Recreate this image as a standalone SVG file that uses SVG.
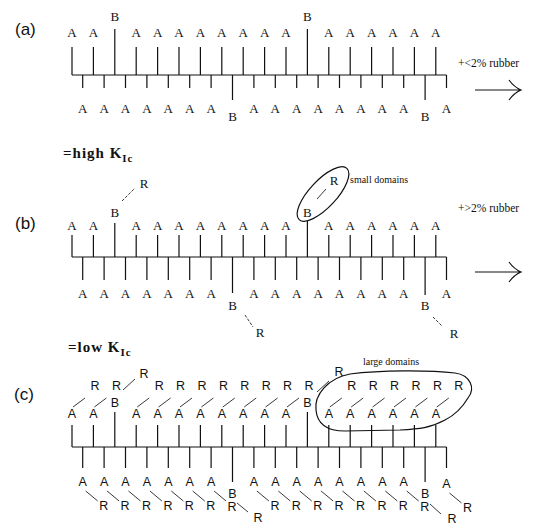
<svg xmlns="http://www.w3.org/2000/svg" width="551" height="527" viewBox="0 0 551 527">
<style>
.ln{stroke:#111;stroke-width:1.2;fill:none}
.th{stroke:#222;stroke-width:0.9;fill:none}
.s{font-family:"Liberation Serif",serif;font-size:13px;text-anchor:middle;fill:#111}
.c{font-family:"Liberation Sans",Arial,sans-serif;font-size:12.5px;text-anchor:middle;fill:#111}
.p{font-family:"Liberation Sans",Arial,sans-serif;font-size:17px;fill:#111}
.sm{font-family:"Liberation Serif",serif;font-size:10px;fill:#111}
.r{font-family:"Liberation Serif",serif;font-size:11.5px;fill:#111}
.k{font-family:"Liberation Serif",serif;font-size:15px;font-weight:bold;letter-spacing:1px;fill:#111}
</style>
<rect width="551" height="527" fill="#fff"/>

<g id="panel-a">
<text class="p" x="15" y="35">(a)</text>
<g id="a-connectors">
<path class="ln" d="M72,75H446.5"/>
<path class="ln" d="M72,47V75M93.4,47V75M114.8,29V75M136.2,47V75M157.6,47V75M179,47V75M200.4,47V75M221.8,47V75M243.2,47V75M264.6,47V75M286,47V75M307.4,29V75M328.8,47V75M350.2,47V75M371.6,47V75M393,47V75M414.4,47V75M435.8,47V75"/>
<path class="ln" d="M82.7,75V88M104.1,75V88M125.5,75V88M146.9,75V88M168.3,75V88M189.7,75V88M211.1,75V88M232.5,75V100M253.9,75V88M275.3,75V88M296.7,75V88M318.1,75V88M339.5,75V88M360.9,75V88M382.3,75V88M403.7,75V88M425.1,75V100M446.5,75V88"/>
<path class="ln" d="M475,90H520M509,80Q514,87 521,90Q514,93 509,100"/>
</g>
<g id="a-top">
<text class="s" x="72" y="37">A</text><text class="s" x="93.4" y="37">A</text><text class="s" x="114.8" y="21">B</text><text class="s" x="136.2" y="37">A</text><text class="s" x="157.6" y="37">A</text><text class="s" x="179" y="37">A</text><text class="s" x="200.4" y="37">A</text><text class="s" x="221.8" y="37">A</text><text class="s" x="243.2" y="37">A</text><text class="s" x="264.6" y="37">A</text><text class="s" x="286" y="37">A</text><text class="s" x="307.4" y="21">B</text><text class="s" x="328.8" y="37">A</text><text class="s" x="350.2" y="37">A</text><text class="s" x="371.6" y="37">A</text><text class="s" x="393" y="37">A</text><text class="s" x="414.4" y="37">A</text><text class="s" x="435.8" y="37">A</text>
</g>
<g id="a-bottom">
<text class="s" x="82.7" y="113">A</text><text class="s" x="104.1" y="113">A</text><text class="s" x="125.5" y="113">A</text><text class="s" x="146.9" y="113">A</text><text class="s" x="168.3" y="113">A</text><text class="s" x="189.7" y="113">A</text><text class="s" x="211.1" y="113">A</text><text class="s" x="232.5" y="121">B</text><text class="s" x="253.9" y="113">A</text><text class="s" x="275.3" y="113">A</text><text class="s" x="296.7" y="113">A</text><text class="s" x="318.1" y="113">A</text><text class="s" x="339.5" y="113">A</text><text class="s" x="360.9" y="113">A</text><text class="s" x="382.3" y="113">A</text><text class="s" x="403.7" y="113">A</text><text class="s" x="425.1" y="121">B</text><text class="s" x="446.5" y="113">A</text>
</g>
<text class="r" x="458" y="67">+&lt;2% rubber</text>
</g>

<text class="k" x="63" y="158">=high K<tspan dy="4" font-size="11">Ic</tspan></text>

<g id="panel-b">
<text class="p" x="15" y="229">(b)</text>
<g id="b-connectors">
<path class="ln" d="M72,257H446.5"/>
<path class="ln" d="M72,235V257M93.4,235V257M114.8,223V257M136.2,235V257M157.6,235V257M179,235V257M200.4,235V257M221.8,235V257M243.2,235V257M264.6,235V257M286,235V257M307.4,221V257M328.8,235V257M350.2,235V257M371.6,235V257M393,235V257M414.4,235V257M435.8,235V257"/>
<path class="ln" d="M82.7,257V280M104.1,257V280M125.5,257V280M146.9,257V280M168.3,257V280M189.7,257V280M211.1,257V280M232.5,257V293M253.9,257V280M275.3,257V280M296.7,257V280M318.1,257V280M339.5,257V280M360.9,257V280M382.3,257V280M403.7,257V280M425.1,257V295M446.5,257V280"/>
<path class="th" stroke-dasharray="3,1.5" d="M122,201L135,188M245,315L253,327M433,317L442,326"/>
<path class="th" d="M317,199L326,189"/>
<path class="ln" d="M475,272H520M509,262Q514,269 521,272Q514,275 509,282"/>
<ellipse class="ln" cx="323" cy="194" rx="35" ry="13.5" transform="rotate(-47 323 194)"/>
</g>
<g id="b-top">
<text class="s" x="72" y="230">A</text><text class="s" x="93.4" y="230">A</text><text class="s" x="114.8" y="217">B</text><text class="s" x="136.2" y="230">A</text><text class="s" x="157.6" y="230">A</text><text class="s" x="179" y="230">A</text><text class="s" x="200.4" y="230">A</text><text class="s" x="221.8" y="230">A</text><text class="s" x="243.2" y="230">A</text><text class="s" x="264.6" y="230">A</text><text class="s" x="286" y="230">A</text><text class="s" x="307.4" y="217">B</text><text class="s" x="328.8" y="230">A</text><text class="s" x="350.2" y="230">A</text><text class="s" x="371.6" y="230">A</text><text class="s" x="393" y="230">A</text><text class="s" x="414.4" y="230">A</text><text class="s" x="435.8" y="230">A</text>
<text class="s" x="144" y="188">R</text><text class="s" x="334" y="185">R</text>
</g>
<g id="b-bottom">
<text class="s" x="82.7" y="298">A</text><text class="s" x="104.1" y="298">A</text><text class="s" x="125.5" y="298">A</text><text class="s" x="146.9" y="298">A</text><text class="s" x="168.3" y="298">A</text><text class="s" x="189.7" y="298">A</text><text class="s" x="211.1" y="298">A</text><text class="s" x="232.5" y="310">B</text><text class="s" x="253.9" y="298">A</text><text class="s" x="275.3" y="298">A</text><text class="s" x="296.7" y="298">A</text><text class="s" x="318.1" y="298">A</text><text class="s" x="339.5" y="298">A</text><text class="s" x="360.9" y="298">A</text><text class="s" x="382.3" y="298">A</text><text class="s" x="403.7" y="298">A</text><text class="s" x="425.1" y="310">B</text><text class="s" x="446.5" y="298">A</text>
<text class="s" x="260" y="337">R</text><text class="s" x="454" y="338">R</text>
</g>
<text class="sm" x="350" y="183">small domains</text>
<text class="r" x="458" y="212">+&gt;2% rubber</text>
</g>

<text class="k" x="68" y="352">=low K<tspan dy="4" font-size="11">Ic</tspan></text>

<g id="panel-c">
<text class="p" x="14" y="400">(c)</text>
<g id="c-connectors">
<path class="ln" d="M72,447H446.5"/>
<path class="ln" d="M72,425V447M93.4,425V447M114.8,412V447M136.2,425V447M157.6,425V447M179,425V447M200.4,425V447M221.8,425V447M243.2,425V447M264.6,425V447M286,425V447M307.4,412V447M328.8,425V447M350.2,425V447M371.6,425V447M393,425V447M414.4,425V447M435.8,425V447"/>
<path class="ln" d="M82.7,447V468M104.1,447V468M125.5,447V468M146.9,447V468M168.3,447V468M189.7,447V468M211.1,447V468M232.5,447V482M253.9,447V468M275.3,447V468M296.7,447V468M318.1,447V468M339.5,447V468M360.9,447V468M382.3,447V468M403.7,447V468M425.1,447V482M446.5,447V468"/>
<path class="th" d="M73,407L85,398M94.4,407L106.4,398M137.2,407L149.2,398M158.6,407L170.6,398M180,407L192,398M201.4,407L213.4,398M222.8,407L234.8,398M244.2,407L256.2,398M265.6,407L277.6,398M287,407L299,398M329.8,407L341.8,398M351.2,407L363.2,398M372.6,407L384.6,398M394,407L406,398M415.4,407L427.4,398M436.8,407L448.8,398M123,390L135,379M317,392L329,381"/>
<path class="th" d="M85.7,491L97.7,501M107.1,491L119.1,501M128.5,491L140.5,501M149.9,491L161.9,501M171.3,491L183.3,501M192.7,491L204.7,501M214.1,491L226.1,501M256.9,491L268.9,501M278.3,491L290.3,501M299.7,491L311.7,501M321.1,491L333.1,501M342.5,491L354.5,501M363.9,491L375.9,501M385.3,491L397.3,501M406.7,491L418.7,501M449.5,493L461.5,503M237,503L248,512M430,504L441,514"/>
<path class="ln" d="M316,410C314,395 328,378 350,374C380,370 430,370 455,373C470,375 476,388 468,398C462,408 455,415 445,420C430,428 420,429 400,430L345,431C325,431 317,422 316,410Z"/>
</g>
<g id="c-top">
<text class="c" x="72" y="418">A</text><text class="c" x="93.4" y="418">A</text><text class="c" x="114.8" y="407">B</text><text class="c" x="136.2" y="418">A</text><text class="c" x="157.6" y="418">A</text><text class="c" x="179" y="418">A</text><text class="c" x="200.4" y="418">A</text><text class="c" x="221.8" y="418">A</text><text class="c" x="243.2" y="418">A</text><text class="c" x="264.6" y="418">A</text><text class="c" x="286" y="418">A</text><text class="c" x="307.4" y="407">B</text><text class="c" x="328.8" y="418">A</text><text class="c" x="350.2" y="418">A</text><text class="c" x="371.6" y="418">A</text><text class="c" x="393" y="418">A</text><text class="c" x="414.4" y="418">A</text><text class="c" x="435.8" y="418">A</text>
<text class="c" x="95" y="390">R</text><text class="c" x="116.4" y="390">R</text><text class="c" x="144" y="378">R</text><text class="c" x="159.2" y="390">R</text><text class="c" x="180.6" y="390">R</text><text class="c" x="202" y="390">R</text><text class="c" x="223.4" y="390">R</text><text class="c" x="244.8" y="390">R</text><text class="c" x="266.2" y="390">R</text><text class="c" x="287.6" y="390">R</text><text class="c" x="309" y="390">R</text><text class="c" x="339" y="376">R</text><text class="c" x="351.8" y="390">R</text><text class="c" x="373.2" y="390">R</text><text class="c" x="394.6" y="390">R</text><text class="c" x="416" y="390">R</text><text class="c" x="437.4" y="390">R</text><text class="c" x="458.8" y="390">R</text>
</g>
<g id="c-bottom">
<text class="c" x="82.7" y="486">A</text><text class="c" x="104.1" y="486">A</text><text class="c" x="125.5" y="486">A</text><text class="c" x="146.9" y="486">A</text><text class="c" x="168.3" y="486">A</text><text class="c" x="189.7" y="486">A</text><text class="c" x="211.1" y="486">A</text><text class="c" x="232.5" y="498">B</text><text class="c" x="253.9" y="486">A</text><text class="c" x="275.3" y="486">A</text><text class="c" x="296.7" y="486">A</text><text class="c" x="318.1" y="486">A</text><text class="c" x="339.5" y="486">A</text><text class="c" x="360.9" y="486">A</text><text class="c" x="382.3" y="486">A</text><text class="c" x="403.7" y="486">A</text><text class="c" x="425.1" y="498">B</text><text class="c" x="446.5" y="488">A</text>
<text class="c" x="103.7" y="510">R</text><text class="c" x="125.1" y="510">R</text><text class="c" x="146.5" y="510">R</text><text class="c" x="167.9" y="510">R</text><text class="c" x="189.3" y="510">R</text><text class="c" x="210.7" y="510">R</text><text class="c" x="232.1" y="511">R</text><text class="c" x="258" y="522">R</text><text class="c" x="274.9" y="510">R</text><text class="c" x="296.3" y="510">R</text><text class="c" x="317.7" y="510">R</text><text class="c" x="339.1" y="510">R</text><text class="c" x="360.5" y="510">R</text><text class="c" x="381.9" y="510">R</text><text class="c" x="403.3" y="510">R</text><text class="c" x="424.7" y="511">R</text><text class="c" x="452" y="523">R</text><text class="c" x="467.5" y="512">R</text>
</g>
<text class="sm" x="363" y="365">large domains</text>
</g>
</svg>
